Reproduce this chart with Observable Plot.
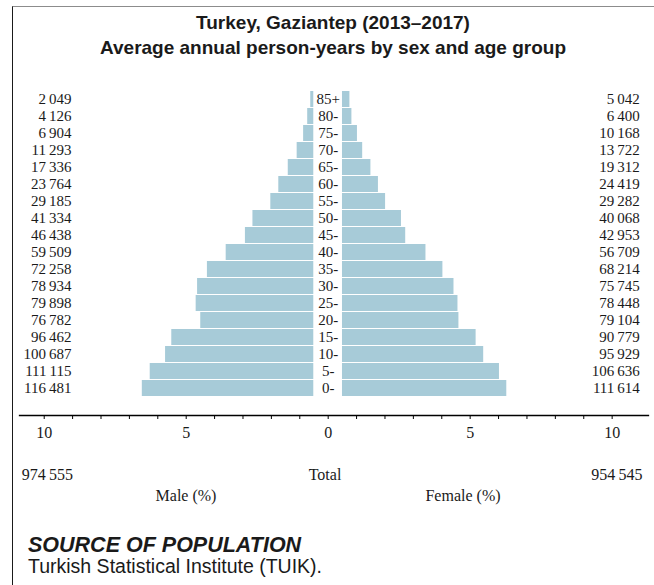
<!DOCTYPE html>
<html>
<head>
<meta charset="utf-8">
<script src="https://cdn.jsdelivr.net/npm/d3@7"></script>
<script src="https://cdn.jsdelivr.net/npm/@observablehq/plot@0.6"></script>
<style>
  body { margin: 0; width: 654px; height: 585px; position: relative; background: #fff; overflow: hidden;
         font-family: "Liberation Sans", Arial, sans-serif; color: #1a1a1a; }
  #frame { position: absolute; left: 12px; top: 6px; right: 0; bottom: 0;
           border-top: 1px solid #8c8c8c; border-left: 1px solid #1a1a1a; }
  #title { position: absolute; left: 12px; right: 0; top: 10px; text-align: center;
           font-weight: bold; font-size: 19px; line-height: 25px; }
  #chart { position: absolute; left: 0; top: 80px; }
  .serif { position: absolute; font-family: "Liberation Serif", "Times New Roman", serif;
           font-size: 16px; line-height: 20px; white-space: nowrap; }
  #src1 { position: absolute; left: 28px; top: 533px; font-weight: bold; font-style: italic;
          font-size: 21.5px; line-height: 24px; }
  #src2 { position: absolute; left: 28px; top: 555px; font-size: 19.5px; line-height: 22px; }
</style>
</head>
<body>
<div id="frame"></div>
<div id="title">Turkey, Gaziantep (2013–2017)<br>Average annual person-years by sex and age group</div>
<div id="chart"></div>
<div class="serif" id="totM" style="right:581px; top:465px; text-align:right;"></div>
<div class="serif" style="left:275px; width:100px; top:465px; text-align:center;">Total</div>
<div class="serif" id="totF" style="right:11.5px; top:465px; text-align:right;"></div>
<div class="serif" style="left:136px; width:100px; top:486px; text-align:center;">Male (%)</div>
<div class="serif" style="left:413px; width:100px; top:486px; text-align:center;">Female (%)</div>
<div id="src1">SOURCE OF POPULATION</div>
<div id="src2">Turkish Statistical Institute (TUIK).</div>
<script>
// ---- data ----
const ageGroups = ["0-", "5-", "10-", "15-", "20-", "25-", "30-", "35-", "40-", "45-",
                   "50-", "55-", "60-", "65-", "70-", "75-", "80-", "85+"];
const maleCounts = [116481, 111115, 100687, 96462, 76782, 79898, 78934, 72258, 59509, 46438,
                    41334, 29185, 23764, 17336, 11293, 6904, 4126, 2049];
const femaleCounts = [111614, 106636, 95929, 90779, 79104, 78448, 75745, 68214, 56709, 42953,
                      40068, 29282, 24419, 19312, 13722, 10168, 6400, 5042];
const totalMale = 974555;
const totalFemale = 954545;
const axisTickLabels = [-10, -5, 0, 5, 10];

// ---- derived ----
const grandTotal = totalMale + totalFemale;
const pct = v => v / grandTotal * 100;
const fmt = d3.formatLocale({decimal: ".", thousands: "\u2009", grouping: [3], currency: ["", ""]}).format(",d");
const rows = ageGroups.map((age, i) => ({age, male: maleCounts[i], female: femaleCounts[i]}));

document.getElementById("totM").textContent = fmt(totalMale);
document.getElementById("totF").textContent = fmt(totalFemale);

const barColor = "#a7cbd8";
const chart = Plot.plot({
  width: 654,
  height: 365,
  marginLeft: 19,
  marginRight: 6,
  marginTop: 8,
  marginBottom: 30,
  style: {fontFamily: "'Liberation Serif', 'Times New Roman', serif", fontSize: "15px", color: "#1a1a1a", background: "transparent"},
  x: {domain: [-10.87, 11.28]},
  y: {type: "band", domain: ageGroups.slice().reverse(), range: [8.3, 317.7], paddingInner: 0.08, paddingOuter: 0, axis: null},
  marks: [
    Plot.barX(rows, {y: "age", x1: 0, x2: d => -pct(d.male), dx: -14.4, fill: barColor}),
    Plot.barX(rows, {y: "age", x1: 0, x2: d => pct(d.female), dx: 14.3, fill: barColor}),
    Plot.text(rows, {y: "age", x: 0, text: "age", fontSize: 15}),
    Plot.text(rows, {y: "age", frameAnchor: "left", dx: 52, textAnchor: "end", text: d => fmt(d.male), fontSize: 15}),
    Plot.text(rows, {y: "age", frameAnchor: "right", dx: -8.7, textAnchor: "end", text: d => fmt(d.female), fontSize: 15}),
    Plot.frame({anchor: "bottom", stroke: "#000", strokeWidth: 1.3}),
    Plot.axisX({ticks: d3.range(-10, 11), tickSize: 4, tickFormat: () => "", stroke: "#000"}),
    Plot.axisX({ticks: axisTickLabels, tickSize: 0, tickPadding: 11, tickFormat: d => Math.abs(d), fontSize: 16})
  ]
});
document.getElementById("chart").appendChild(chart);
</script>
</body>
</html>
